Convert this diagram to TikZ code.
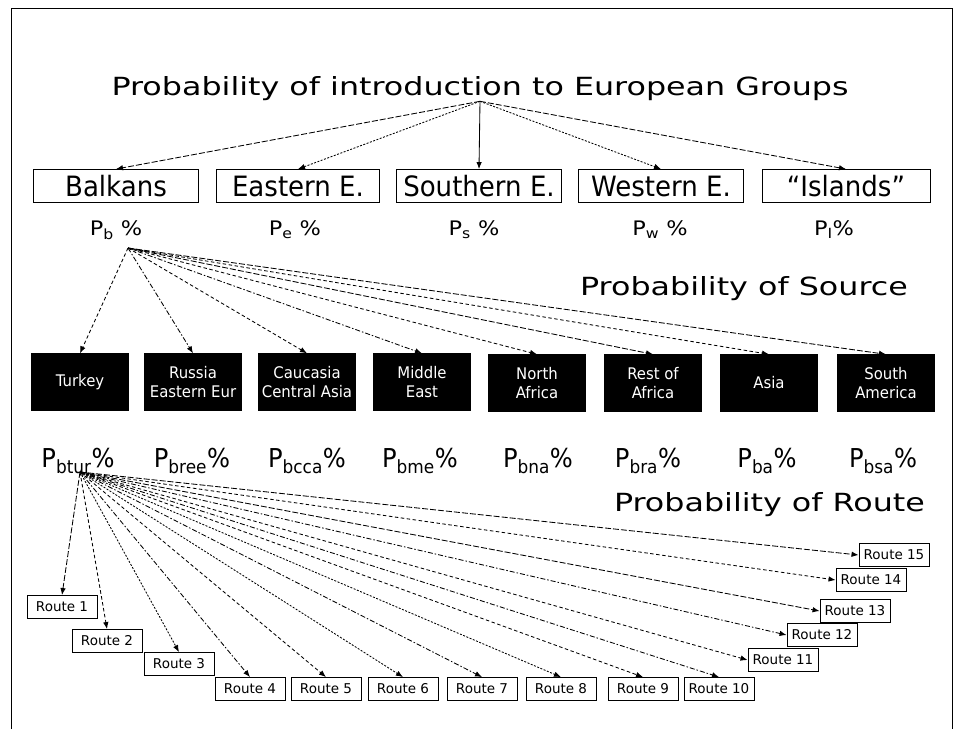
\documentclass[tikz,border=0pt]{standalone}
\usepackage{fontspec}
\setmainfont{DejaVu Sans}
\newfontfamily\headfont[FakeStretch=1.27]{DejaVu Sans}
\newfontfamily\narrowfont[FakeStretch=0.93]{DejaVu Sans}
\newfontfamily\widefont[FakeStretch=1.12]{DejaVu Sans}
\usepackage{tikz}
\usetikzlibrary{arrows.meta}
\tikzset{
  hdr/.style  ={inner sep=0pt, font=\headfont\fontsize{25}{28}\selectfont},
  grp/.style  ={draw, rectangle, line width=0.9pt, minimum width=165pt, minimum height=33pt, inner sep=0pt, font=\narrowfont\fontsize{28}{30}\selectfont},
  pgrp/.style ={inner sep=0pt, font=\widefont\fontsize{20}{22}\selectfont},
  src/.style  ={draw, fill=black, text=white, rectangle, minimum width=97pt, minimum height=57pt, inner sep=1pt, align=center, font=\narrowfont\fontsize{16}{19}\selectfont},
  psrc/.style ={inner sep=0pt, font=\narrowfont\fontsize{26}{28}\selectfont},
  rte/.style  ={draw, rectangle, line width=0.9pt, minimum width=70pt, minimum height=23pt, inner sep=0pt, font=\fontsize{13.5}{15}\selectfont},
  arr/.style  ={-{Latex[length=7pt, width=5.5pt]}, line width=0.85pt},
  lng/.style  ={arr, dash pattern=on 6pt off 2pt},
  dtd/.style  ={arr, dash pattern=on 2pt off 1.5pt},
  dsd/.style  ={arr, dash pattern=on 5pt off 2pt on 1.5pt off 2pt},
  shd/.style  ={arr, dash pattern=on 3.5pt off 2.5pt},
}

\begin{document}
\begin{tikzpicture}[x=1pt, y=-1pt]
  \useasboundingbox (0,0) rectangle (959,729);
  % frame of the slide
  \draw[line width=0.8pt] (11,729) -- (11,8) -- (952,8) -- (952,729);

  % level 1: European groups
  \node[hdr] (title) at (480,89) {Probability of introduction to European Groups};
  \node[grp] (bal) at (116,186) {Balkans};
  \node[grp, minimum width=163pt] (eas) at (298,186) {Eastern E.};
  \node[grp] (sou) at (479,186) {Southern E.};
  \node[grp] (wes) at (661,186) {Western E.};
  \node[grp, minimum width=168pt] (isl) at (846,186) {“Islands”};

  \node[pgrp] (pb) at (116,230) {P\textsubscript{b} \%};
  \node[pgrp] (pe) at (295,230) {P\textsubscript{e} \%};
  \node[pgrp] (ps) at (474,230) {P\textsubscript{s} \%};
  \node[pgrp] (pw) at (660,230) {P\textsubscript{w} \%};
  \node[pgrp] (pi) at (834,230) {P\textsubscript{I}\%};

  \draw[lng] (title.south) -- (bal.north);
  \draw[dtd] (title.south) -- (eas.north);
  \draw[arr] (title.south) -- (sou.north);
  \draw[dtd] (title.south) -- (wes.north);
  \draw[lng] (title.south) -- (isl.north);

  % level 2: sources
  \node[hdr, anchor=east] (hsrc) at (908,289) {Probability of Source};
  \node[src] (tur) at (80,382)  {Turkey};
  \node[src] (rus) at (193,382) {Russia\\Eastern Eur};
  \node[src] (cau) at (307,382) {Caucasia\\Central Asia};
  \node[src] (mde) at (422,382) {Middle\\East};
  \node[src] (naf) at (537,383) {North\\Africa};
  \node[src] (raf) at (653,383) {Rest of\\Africa};
  \node[src] (asi) at (769,383) {Asia};
  \node[src] (sam) at (886,383) {South\\America};

  \coordinate (ob) at (128,248);
  \draw[shd] (ob) -- (tur.north);
  \draw[dsd] (ob) -- (rus.north);
  \draw[shd] (ob) -- (cau.north);
  \draw[dsd] (ob) -- (mde.north);
  \draw[shd] (ob) -- (naf.north);
  \draw[lng] (ob) -- (raf.north);
  \draw[shd] (ob) -- (asi.north);
  \draw[lng] (ob) -- (sam.north);

  \node[psrc] (pbtur) at (78,461)  {P\textsubscript{btur}\%};
  \node[psrc] (pbree) at (192,461) {P\textsubscript{bree}\%};
  \node[psrc] (pbcca) at (307,461) {P\textsubscript{bcca}\%};
  \node[psrc] (pbme)  at (420,461) {P\textsubscript{bme}\%};
  \node[psrc] (pbna)  at (538,461) {P\textsubscript{bna}\%};
  \node[psrc] (pbra)  at (648,461) {P\textsubscript{bra}\%};
  \node[psrc] (pba)   at (767,461) {P\textsubscript{ba}\%};
  \node[psrc] (pbsa)  at (883,461) {P\textsubscript{bsa}\%};

  % level 3: routes
  \node[hdr, anchor=east] (hrte) at (925,505) {Probability of Route};
  \node[rte] (r1)  at (62,607)  {Route 1};
  \node[rte] (r2)  at (107,641) {Route 2};
  \node[rte] (r3)  at (179,664) {Route 3};
  \node[rte] (r4)  at (250,689) {Route 4};
  \node[rte] (r5)  at (326,689) {Route 5};
  \node[rte] (r6)  at (403,689) {Route 6};
  \node[rte] (r7)  at (482,689) {Route 7};
  \node[rte] (r8)  at (561,689) {Route 8};
  \node[rte] (r9)  at (643,689) {Route 9};
  \node[rte] (r10) at (719,689) {Route 10};
  \node[rte] (r11) at (783,660) {Route 11};
  \node[rte] (r12) at (822,635) {Route 12};
  \node[rte] (r13) at (855,611) {Route 13};
  \node[rte] (r14) at (871,580) {Route 14};
  \node[rte] (r15) at (894,555) {Route 15};

  \coordinate (ot) at (80,472);
  \draw[lng] (ot) -- (r1.north);
  \draw[shd] (ot) -- (r2.north);
  \draw[dtd] (ot) -- (r3.north);
  \draw[dsd] (ot) -- (r4.north);
  \draw[shd] (ot) -- (r5.north);
  \draw[dtd] (ot) -- (r6.north);
  \draw[dsd] (ot) -- (r7.north);
  \draw[dtd] (ot) -- (r8.north);
  \draw[shd] (ot) -- (r9.north);
  \draw[dsd] (ot) -- (r10.north);
  \draw[shd] (ot) -- (r11.west);
  \draw[dsd] (ot) -- (r12.west);
  \draw[lng] (ot) -- (r13.west);
  \draw[shd] (ot) -- (r14.west);
  \draw[lng] (ot) -- (r15.west);
\end{tikzpicture}
\end{document}
